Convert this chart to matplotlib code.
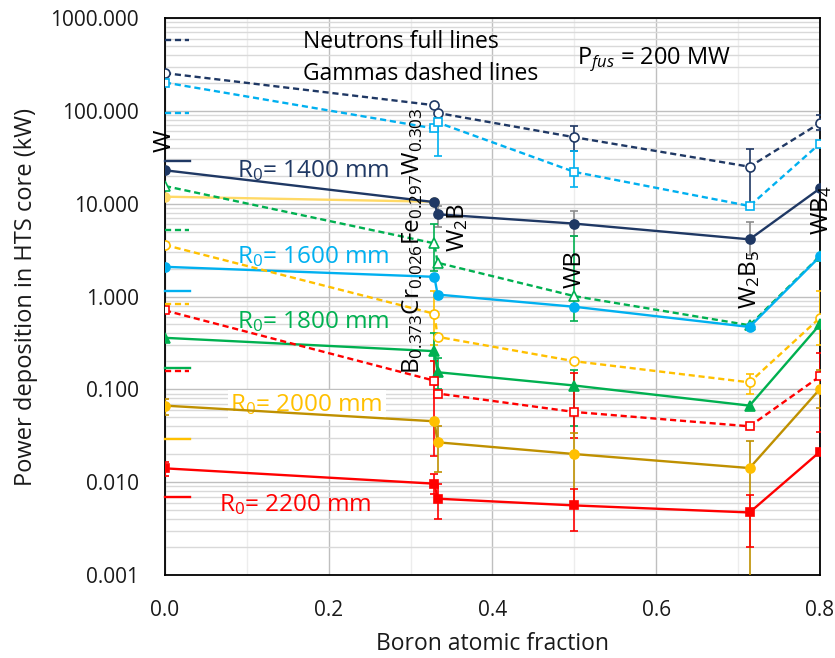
import numpy as np
import matplotlib
matplotlib.use("Agg")
import matplotlib.pyplot as plt
import matplotlib.transforms as mtransforms
from matplotlib.ticker import FixedLocator, FuncFormatter, LogLocator, NullFormatter

plt.rcParams['font.family'] = ['Open Sans', 'DejaVu Sans']
plt.rcParams['mathtext.fontset'] = 'custom'
plt.rcParams['mathtext.rm'] = 'Open Sans'
plt.rcParams['mathtext.it'] = 'Open Sans:italic'
plt.rcParams['mathtext.bf'] = 'Open Sans:bold'

# ---------------- data ----------------
boron_fraction = [0.0, 0.329, 0.333, 0.5, 0.714, 0.8]
compounds = ["W", "B$_{0.373}$Cr$_{0.026}$Fe$_{0.297}$W$_{0.303}$", "W$_2$B", "WB", "W$_2$B$_5$", "WB$_4$"]

# gamma (dashed lines, open markers)
gamma_1400 = [255, 115, 95, 52, 25, 74]
gamma_1600 = [202, 64.6, 75, 22, 9.44, 44.5]
gamma_1800 = [15.5, 3.74, 2.31, 1.01, 0.49, 2.73]
gamma_2000 = [3.59, 0.652, 0.368, 0.201, 0.119, 0.59]
gamma_2200 = [0.708, 0.124, 0.0902, 0.0571, 0.040, 0.138]

# neutrons (full lines, filled markers)
neutron_1400 = [22.9, 10.4, 7.69, 6.1, 4.13, 14.6]
neutron_1600 = [2.09, 1.63, 1.05, 0.776, 0.47, 2.7]
neutron_1800 = [0.359, 0.258, 0.153, 0.110, 0.0668, 0.50]
neutron_2000 = [0.0668, 0.0453, 0.0269, 0.0201, 0.0142, 0.101]
neutron_2200 = [0.0141, 0.00964, 0.00664, 0.00562, 0.00472, 0.0213]
extra_series = [11.9, 10.5, np.nan, np.nan, np.nan, np.nan]

nan = np.nan
# error bar ends (low, high) per point
err_gamma_1400 = [(nan, nan), (nan, nan), (nan, nan), (37, 68), (9.5, 39), (62, 90)]
err_gamma_1600 = [(nan, nan), (nan, nan), (33, 81), (15, 37), (nan, nan), (nan, nan)]
err_neutron_1400 = [(nan, nan), (nan, nan), (5.6, 9.5), (4.5, 8.3), (2.8, 6.4), (nan, nan)]
err_gamma_1800 = [(nan, nan), (1.9, 6.0), (nan, nan), (0.55, 4.5), (nan, nan), (nan, nan)]
err_neutron_1800 = [(nan, nan), (0.12, 0.40), (0.10, 0.22), (0.040, 0.16), (nan, nan), (nan, nan)]
err_gamma_2000 = [(nan, nan), (0.30, 1.16), (nan, nan), (nan, nan), (0.09, 0.145), (0.3, 1.14)]
err_neutron_2000 = [(0.053, 0.078), (nan, nan), (0.0128, 0.040), (0.006, 0.0337), (0.0005, 0.0275), (0.063, 0.16)]
err_gamma_2200 = [(nan, nan), (0.0193, 0.20), (nan, nan), (0.03, 0.15), (nan, nan), (0.0345, 0.245)]
err_neutron_2200 = [(0.0118, 0.0165), (0.0075, 0.0122), (0.0040, 0.0095), (0.0030, 0.0084), (0.0020, 0.0072), (nan, nan)]

# legend stub positions (kW) along left axis
stub_values = {"g1400": 583, "g1600": 94.5, "n1400": 28.7, "g1800": 5.16, "n1600": 1.14,
               "g2000": 0.822, "n1800": 0.168, "g2200": 0.156, "n2000": 0.0295, "n2200": 0.00697}

y_ticks = [0.001, 0.01, 0.1, 1, 10, 100, 1000]
x_ticks = [0.0, 0.2, 0.4, 0.6, 0.8]

NAVY = "#1F3864"
LBLUE = "#00B0F0"
GREEN = "#00B050"
GOLD = "#FFC000"
DGOLD = "#BF9000"
RED = "#FF0000"
LYEL = "#FFD966"
TXT = "#1A1A1A"

fig = plt.figure(figsize=(8.35, 6.58), dpi=100)
ax = fig.add_axes([0.1976, 0.1261, 0.7844, 0.8465])
ax.set_yscale('log')
ax.set_xlim(0, 0.8)
ax.set_ylim(0.001, 1000)

x = np.array(boron_fraction)
dash = (0, (2.6, 1.6))
lw = 1.7
ms = 6.5


def errs(vals, pairs):
    v = np.array(vals, float)
    lo = np.array([p[0] for p in pairs], float)
    hi = np.array([p[1] for p in pairs], float)
    low = np.where(np.isnan(lo), 0, v - lo)
    high = np.where(np.isnan(hi), 0, hi - v)
    mask = ~(np.isnan(lo) & np.isnan(hi))
    return v, low, high, mask


def draw_err(vals, pairs, color):
    v, low, high, mask = errs(vals, pairs)
    ax.errorbar(x[mask], v[mask], yerr=[low[mask], high[mask]], fmt='none',
                ecolor=color, elinewidth=1.2, capsize=3, capthick=1.2, zorder=3)


series = [
    (gamma_1400, err_gamma_1400, NAVY, NAVY, 'o', False, True),
    (gamma_1600, err_gamma_1600, LBLUE, LBLUE, 's', False, True),
    (neutron_1400, err_neutron_1400, NAVY, '#8C8C8C', 'o', True, False),
    (gamma_1800, err_gamma_1800, GREEN, GREEN, '^', False, True),
    (neutron_1600, None, LBLUE, LBLUE, 'o', True, False),
    (gamma_2000, err_gamma_2000, GOLD, GOLD, 'o', False, True),
    (neutron_1800, err_neutron_1800, GREEN, GREEN, '^', True, False),
    (gamma_2200, err_gamma_2200, RED, RED, 's', False, True),
    (neutron_2000, err_neutron_2000, GOLD, DGOLD, 'o', True, False),
    (neutron_2200, err_neutron_2200, RED, RED, 's', True, False),
]

for vals, pairs, col, ecol, mk, filled, dashed in series:
    if pairs is not None:
        draw_err(vals, pairs, ecol)
for vals, pairs, col, ecol, mk, filled, dashed in series:
    linecol = DGOLD if (col == GOLD and filled) else col
    ax.plot(x, vals, color=linecol, lw=lw, ls=dash if dashed else '-',
            marker=mk, ms=ms if mk != 's' else ms - 0.5,
            mfc=col if filled else 'white', mec=col, mew=1.2, zorder=4)

ax.plot(x, extra_series, color=LYEL, lw=lw, marker='o', ms=ms, mfc=LYEL, mec=LYEL, zorder=3.5)

# legend stubs on the left
trans = mtransforms.blended_transform_factory(ax.transAxes, ax.transData)
stub_styles = {"g1400": (NAVY, True), "g1600": (LBLUE, True), "n1400": (NAVY, False),
               "g1800": (GREEN, True), "n1600": (LBLUE, False), "g2000": (GOLD, True),
               "n1800": (GREEN, False), "g2200": (RED, True), "n2000": (GOLD, False),
               "n2200": (RED, False)}
for k, yv in stub_values.items():
    c, d = stub_styles[k]
    ax.plot([0.0, 0.036 if d else 0.038], [yv, yv], transform=trans, color=c, lw=lw,
            ls=dash if d else '-', zorder=4, clip_on=False)

# grid
ax.xaxis.set_major_locator(FixedLocator(x_ticks))
ax.xaxis.set_minor_locator(FixedLocator([0.1, 0.3, 0.5, 0.7]))
ax.yaxis.set_major_locator(FixedLocator(y_ticks))
ax.yaxis.set_minor_locator(LogLocator(base=10, subs=np.arange(2, 10)))
ax.yaxis.set_minor_formatter(NullFormatter())
ax.xaxis.set_major_formatter(FuncFormatter(lambda v, p: f"{v:.1f}"))
ax.yaxis.set_major_formatter(FuncFormatter(lambda v, p: f"{v:.3f}"))
ax.grid(True, which='major', color='#BFBFBF', lw=1.0, zorder=0)
ax.grid(True, which='minor', axis='y', color='#D9D9D9', lw=1.0, zorder=0)
ax.grid(True, which='minor', axis='x', color='#EDEDED', lw=1.0, zorder=0)
ax.set_axisbelow(True)
ax.tick_params(which='both', length=0, labelsize=15, colors=TXT)
ax.tick_params(axis='y', pad=19)
ax.tick_params(axis='x', pad=18)
for s in ax.spines.values():
    s.set_color('black')
    s.set_linewidth(1.3)

ax.set_xlabel("Boron atomic fraction", fontsize=16.5, color=TXT, labelpad=8)
ax.set_ylabel("Power deposition in HTS core (kW)", fontsize=17, color=TXT)
ax.yaxis.set_label_coords(-0.194, 0.5)

# annotations
ax.text(0.169, 550, "Neutrons full lines", fontsize=16.5, va='center', ha='left', color='black')
ax.text(0.169, 250, "Gammas dashed lines", fontsize=16.5, va='center', ha='left', color='black')
ax.text(0.503, 360, "P$_{fus}$ = 200 MW", fontsize=17, va='center', ha='left', color='black')

ax.text(0.088, 22.5, "R$_0$= 1400 mm", fontsize=17.5, color=NAVY, va='center')
ax.text(0.088, 2.7, "R$_0$= 1600 mm", fontsize=17.5, color=LBLUE, va='center')
ax.text(0.088, 0.54, "R$_0$= 1800 mm", fontsize=17.5, color=GREEN, va='center')
ax.text(0.08, 0.068, "R$_0$= 2000 mm", fontsize=17.5, color=GOLD, va='center',
        bbox=dict(facecolor='white', edgecolor='none', pad=2), zorder=1.5)
ax.text(0.066, 0.0057, "R$_0$= 2200 mm", fontsize=17.5, color=RED, va='center')

label_pos = [(0.0, 48.0), (0.303, 4.0), (0.358, 5.6),
             (0.5, 1.96), (0.714, 1.53), (0.802, 8.5)]
for (xx, yy), lab in zip(label_pos, compounds):
    ax.text(xx, yy, lab, rotation=90, fontsize=17.5, ha='center', va='center', color='black', zorder=5)

fig.savefig("out.png", dpi=100)
